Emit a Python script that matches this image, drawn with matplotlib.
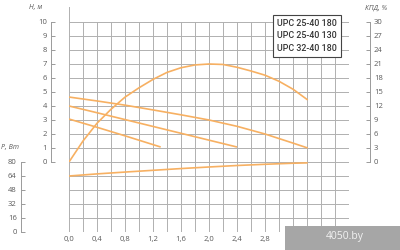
import numpy as np
import matplotlib
matplotlib.use("Agg")
import matplotlib.pyplot as plt
from matplotlib.ticker import FuncFormatter, MultipleLocator
from matplotlib.patches import Rectangle

# ---- data ----
series_names = ["UPC 25-40 180", "UPC 25-40 130", "UPC 32-40 180"]

q_h1 = [0.0, 0.4, 0.8, 1.2, 1.6, 2.0, 2.4, 2.8, 3.2, 3.41]
h1 = [4.64, 4.36, 4.06, 3.72, 3.37, 3.0, 2.55, 2.0, 1.35, 1.0]

q_h2 = [0.0, 0.4, 0.8, 1.2, 1.6, 2.0, 2.4]
h2 = [4.0, 3.52, 3.03, 2.54, 2.05, 1.56, 1.07]

q_h3 = [0.0, 0.4, 0.8, 1.31]
h3 = [3.07, 2.48, 1.87, 1.07]

q_eff = [0.0, 0.2, 0.4, 0.6, 0.8, 1.0, 1.2, 1.4, 1.6, 1.8, 2.0, 2.2, 2.4, 2.6, 2.8, 3.0, 3.2, 3.41]
eff = [0.0, 4.5, 8.3, 11.3, 13.9, 15.9, 17.7, 19.2, 20.2, 20.8, 21.0, 20.9, 20.3, 19.5, 18.6, 17.3, 15.6, 13.3]

q_pow = [0.0, 0.4, 0.8, 1.2, 1.6, 2.0, 2.4, 2.8, 3.2, 3.41]
pw = [64.0, 66.4, 68.5, 70.5, 72.5, 74.3, 76.0, 77.4, 78.6, 79.0]

h_ticks = list(range(0, 11))
eff_ticks = list(range(0, 31, 3))
p_ticks = [0, 16, 32, 48, 64, 80]
q_label_max = 2.8  # labels beyond this are hidden under the site watermark

# ---- style ----
LINE = "#f7b062"
GRID = "#b0b0b0"
SPINE = "#9a9a9a"
TXT = "#5a5a5a"
FONT = "Open Sans"
plt.rcParams["font.family"] = [FONT, "DejaVu Sans"]

fig = plt.figure(figsize=(4, 2.5), dpi=100)
axH = fig.add_axes([0.1725, 0.352, 0.7, 0.56])
axP = fig.add_axes([0.1725, 0.072, 0.7, 0.28])
axK = axH.twinx()

fmt = FuncFormatter(lambda v, p: f"{v:.1f}".replace(".", ",") if v <= q_label_max + 1e-6 else "")

for ax in (axH, axP):
    ax.set_xlim(0, 4.0)
    ax.xaxis.set_major_locator(MultipleLocator(0.4))
    ax.xaxis.set_minor_locator(MultipleLocator(0.2))
    ax.grid(True, which="both", color=GRID, lw=0.7)
    ax.set_axisbelow(True)
    for s in ("top", "right", "bottom"):
        ax.spines[s].set_visible(False)
    ax.spines["left"].set_color(SPINE)
    ax.spines["left"].set_linewidth(0.7)
    ax.tick_params(axis="x", which="both", length=0)
    ax.tick_params(axis="y", direction="in", length=3, width=0.7,
                   color=SPINE, labelsize=5.5, labelcolor=TXT, pad=3)

# upper axes (H)
axH.set_ylim(0, 10)
axH.set_yticks(h_ticks)
axH.spines["left"].set_position(("outward", 13))
axH.tick_params(axis="x", labelbottom=False)
axH.axvline(0, ymin=1.0, ymax=1.107, clip_on=False, color=GRID, lw=0.7)

# lower axes (P)
axP.set_ylim(0, 80)
axP.set_yticks(p_ticks)
axP.spines["left"].set_position(("outward", 34.6))
axP.xaxis.set_major_formatter(fmt)
axP.tick_params(axis="x", labelsize=5.5, labelcolor=TXT, pad=3)

# efficiency axis
axK.set_ylim(0, 30)
axK.set_yticks(eff_ticks)
for s in ("top", "left", "bottom"):
    axK.spines[s].set_visible(False)
axK.spines["right"].set_position(("outward", 15))
axK.spines["right"].set_color(SPINE)
axK.spines["right"].set_linewidth(0.7)
axK.tick_params(axis="y", direction="in", length=3, width=0.7,
                color=SPINE, labelsize=5.5, labelcolor=TXT, pad=3)

# curves
lw = 1.2
axH.plot(q_h1, h1, color=LINE, lw=lw, solid_capstyle="butt")
axH.plot(q_h2, h2, color=LINE, lw=lw, solid_capstyle="butt")
axH.plot(q_h3, h3, color=LINE, lw=lw, solid_capstyle="butt")
axK.plot(q_eff, eff, color=LINE, lw=lw, solid_capstyle="butt")
axP.plot(q_pow, pw, color=LINE, lw=lw, solid_capstyle="butt")

# axis titles
fig.text(36 / 400, 1 - 8 / 250, "H, м", fontsize=5, style="italic", color=TXT,
         ha="center", va="center")
fig.text(376 / 400, 1 - 8 / 250, "КПД, %", fontsize=5, style="italic", color=TXT,
         ha="center", va="center")
fig.text(10 / 400, 1 - 148 / 250, "P, Вт", fontsize=5, style="italic", color=TXT,
         ha="center", va="center")

# legend box
fig.text(307 / 400, 1 - 36 / 250, "\n".join(series_names), fontsize=6.4,
         family=["Roboto", "DejaVu Sans"], weight="medium",
         color="#333333", ha="center", va="center", linespacing=1.45,
         bbox=dict(boxstyle="square,pad=0.45", fc="white", ec="#444444", lw=0.8),
         zorder=10)

# watermark
fig.patches.append(Rectangle((285 / 400, 0), 115 / 400, 24 / 250,
                             transform=fig.transFigure, fc="#a6a6a6", ec="none",
                             zorder=20))
fig.text(345 / 400, 1 - 236 / 250, "4050.by", fontsize=7.5, color="#f2f2f2",
         ha="center", va="center", zorder=21)

fig.savefig("out.png", dpi=100)
